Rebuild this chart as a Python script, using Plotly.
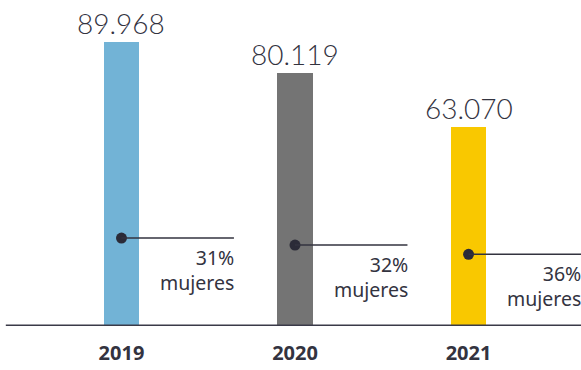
import plotly.graph_objects as go

# Datos
years = ["2019", "2020", "2021"]
totals = [89968, 80119, 63070]
women_pct = [31, 32, 36]
bar_colors = ["#72b3d6", "#747474", "#f9c800"]

TEXT = "#33333f"
x_pos = list(range(len(years)))
women = [t * p / 100 for t, p in zip(totals, women_pct)]

def fmt(v):
    return f"{v:,}".replace(",", ".")

fig = go.Figure()

fig.add_trace(go.Bar(
    x=x_pos, y=totals, width=0.202,
    marker=dict(color=bar_colors, line=dict(width=0)),
    hoverinfo="skip", showlegend=False,
))

# Líneas guía desde el punto de mujeres hacia la derecha
line_len = 0.648
for xp, w in zip(x_pos, women):
    fig.add_shape(type="line", x0=xp, x1=xp + line_len, y0=w, y1=w,
                  xref="x", yref="y", line=dict(color="#33333f", width=1.5),
                  layer="above")

fig.add_trace(go.Scatter(
    x=x_pos, y=women, mode="markers",
    marker=dict(color="#2b2b38", size=11),
    hoverinfo="skip", showlegend=False, cliponaxis=False,
))

# Valores sobre las barras
for xp, t in zip(x_pos, totals):
    fig.add_annotation(x=xp, y=t, text=fmt(t), showarrow=False,
                       xanchor="center", yanchor="bottom", yshift=0,
                       font=dict(family="Lato", size=28, color=TEXT, weight=300))

# Porcentaje de mujeres
for xp, w, p in zip(x_pos, women, women_pct):
    fig.add_annotation(x=xp + line_len - 0.01, y=w, text=f"{p}%<br>mujeres",
                       showarrow=False, xanchor="right", yanchor="top",
                       align="right", yshift=-4, xshift=4,
                       font=dict(family="Noto Sans", size=19.5, color=TEXT))

# Eje inferior
fig.add_shape(type="line", x0=0.01, x1=1, y0=0, y1=0, xref="paper", yref="y",
              line=dict(color="#3a3a48", width=3), layer="above")

fig.update_layout(
    width=581, height=370,
    margin=dict(l=0, r=0, t=0, b=44),
    paper_bgcolor="white", plot_bgcolor="white",
    xaxis=dict(range=[-0.700, 2.648], tickmode="array", tickvals=x_pos,
               ticktext=years, showgrid=False, zeroline=False, showline=False,
               ticks="", ticklen=0, ticklabelstandoff=13,
               tickfont=dict(family="Noto Sans", size=20, color=TEXT, weight="bold")),
    yaxis=dict(range=[0, 326 * 317], visible=False, showgrid=False, zeroline=False),
    bargap=0,
)

fig.write_html("out.html")
